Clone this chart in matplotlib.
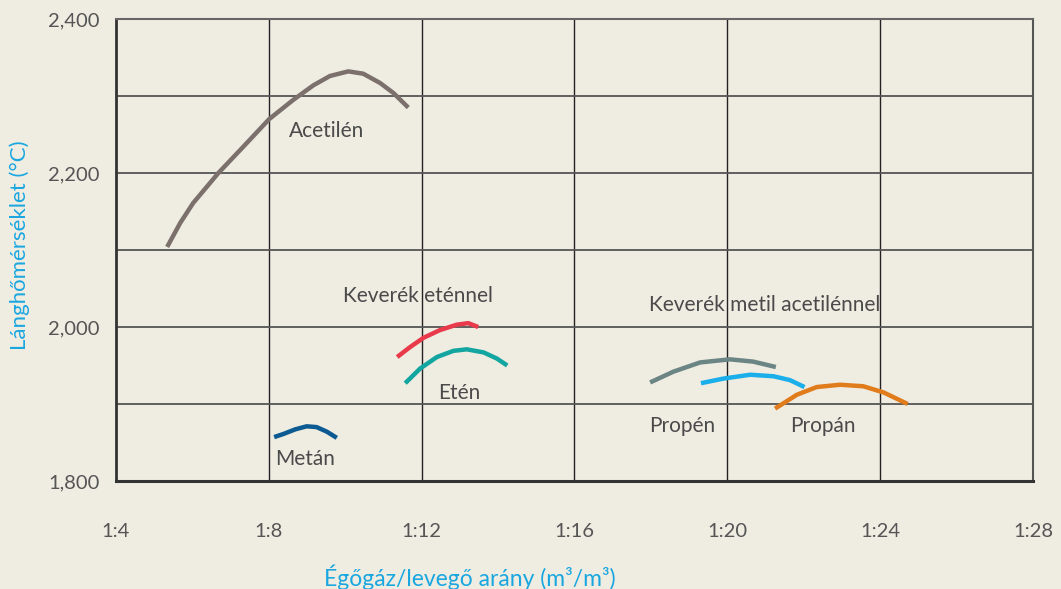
import matplotlib
matplotlib.use("Agg")
import matplotlib.pyplot as plt

# ---- data ----
acetilen_x = [5.34, 5.68, 6.02, 6.68, 7.33, 8.01, 8.64, 9.17, 9.60, 10.08, 10.47, 10.91, 11.26, 11.65]
acetilen_y = [2104, 2135, 2161, 2200, 2234, 2270, 2295, 2314, 2326, 2332, 2329, 2317, 2304, 2285]

metan_x = [8.14, 8.38, 8.69, 8.99, 9.25, 9.52, 9.78]
metan_y = [1857, 1861, 1867, 1871, 1870, 1864, 1856]

ket_eten_x = [11.36, 11.70, 12.05, 12.48, 12.92, 13.22, 13.48]
ket_eten_y = [1961, 1974, 1986, 1996, 2003, 2005, 2000]

eten_x = [11.57, 11.96, 12.40, 12.83, 13.18, 13.62, 13.97, 14.24]
eten_y = [1927, 1946, 1961, 1969, 1971, 1967, 1959, 1950]

kev_metil_x = [17.98, 18.59, 19.29, 20.07, 20.68, 21.27]
kev_metil_y = [1928, 1942, 1954, 1958, 1955, 1948]

propen_x = [19.31, 19.90, 20.60, 21.21, 21.64, 22.02]
propen_y = [1927, 1933, 1938, 1936, 1931, 1922]

propan_x = [21.25, 21.82, 22.34, 22.95, 23.56, 24.09, 24.72]
propan_y = [1894, 1912, 1922, 1925, 1923, 1915, 1900]

x_ticks = [4, 8, 12, 16, 20, 24, 28]
x_tick_labels = ["1:4", "1:8", "1:12", "1:16", "1:20", "1:24", "1:28"]
y_ticks = [1800, 2000, 2200, 2400]
y_tick_labels = ["1,800", "2,000", "2,200", "2,400"]
y_grid = [1900, 2000, 2100, 2200, 2300]

labels = [
    ("Acetilén", 9.52, 2254),
    ("Keverék eténnel", 11.9, 2040),
    ("Etén", 12.98, 1914),
    ("Metán", 8.95, 1828),
    ("Keverék metil acetilénnel", 20.99, 2028),
    ("Propén", 18.81, 1872),
    ("Propán", 22.5, 1872),
]

bg = "#efece2"
plt.rcParams["font.family"] = ["Lato", "DejaVu Sans"]

fig = plt.figure(figsize=(10.61, 5.89), dpi=100, facecolor=bg)
ax = fig.add_axes([0.1093, 0.1834, 0.8643, 0.7843])
ax.set_facecolor(bg)
ax.set_xlim(4, 28)
ax.set_ylim(1800, 2400)

for gx in [8, 12, 16, 20, 24]:
    ax.axvline(gx, color="#222222", lw=1.0, zorder=1)
for gy in y_grid:
    ax.axhline(gy, color="#555555", lw=1.3, zorder=1)

series = [
    (acetilen_x, acetilen_y, "#7b706b"),
    (metan_x, metan_y, "#0b5a92"),
    (ket_eten_x, ket_eten_y, "#e93a4b"),
    (eten_x, eten_y, "#13a5a0"),
    (kev_metil_x, kev_metil_y, "#6b8484"),
    (propen_x, propen_y, "#1aaeea"),
    (propan_x, propan_y, "#e07c1c"),
]
for xs, ys, c in series:
    ax.plot(xs, ys, color=c, lw=3.2, solid_capstyle="butt", solid_joinstyle="round", zorder=3)

for txt, lx, ly in labels:
    ax.text(lx, ly, txt, ha="center", va="center", fontsize=15, color="#4a4a4a", zorder=4)

ax.set_xticks(x_ticks)
ax.set_xticklabels(x_tick_labels)
ax.set_yticks(y_ticks)
ax.set_yticklabels(y_tick_labels)
ax.tick_params(axis="x", length=0, pad=30, labelsize=14.5, labelcolor="#555555")
ax.tick_params(axis="y", length=0, pad=12, labelsize=14.5, labelcolor="#555555")

ax.spines["left"].set_color("#333333")
ax.spines["left"].set_linewidth(2)
ax.spines["bottom"].set_color("#333333")
ax.spines["bottom"].set_linewidth(2.2)
ax.spines["top"].set_color("#666666")
ax.spines["top"].set_linewidth(1.5)
ax.spines["right"].set_color("#555555")
ax.spines["right"].set_linewidth(1.5)

fig.text(0.019, 0.5837, "Lánghőmérséklet (°C)", rotation=90, ha="center", va="center",
         fontsize=16, color="#1aa7e0")
fig.text(0.443, 0.02, "Égőgáz/levegő arány (m³/m³)", ha="center", va="center",
         fontsize=16.5, color="#1aa7e0")

fig.savefig("out.png", dpi=100, facecolor=bg)
